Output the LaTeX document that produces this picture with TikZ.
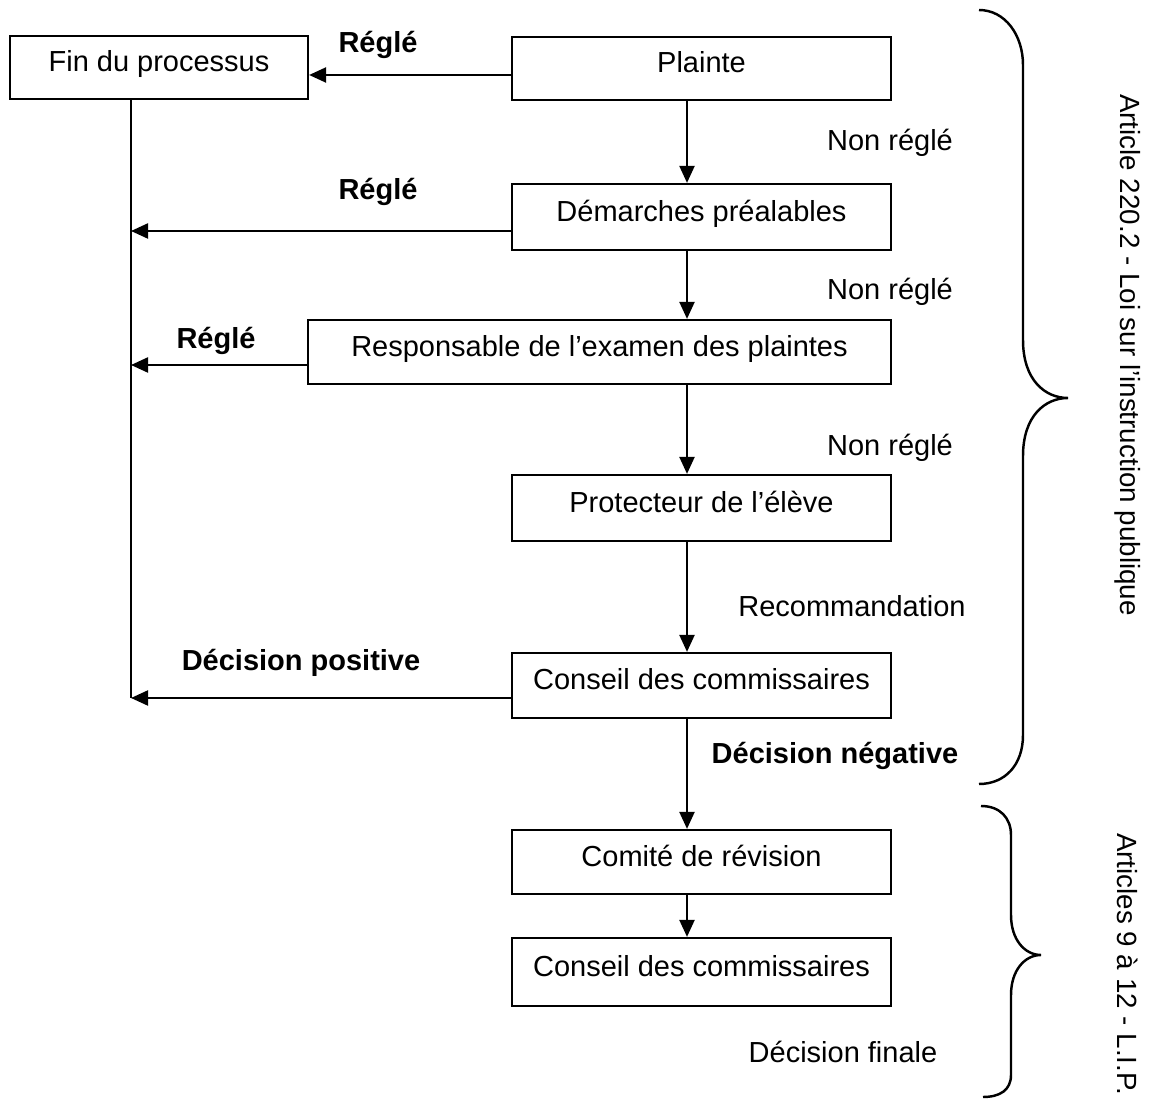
\documentclass[tikz,border=0pt]{standalone}
\usepackage{fontspec}
\setmainfont{Liberation Sans}
\usepackage{tikz}
\usetikzlibrary{positioning,calc,arrows.meta}
\tikzset{
  stepBox/.style={
    rectangle,
    draw=black,
    line width=1.25pt,
    minimum width=7.58cm,
    minimum height=1.3cm,
    inner sep=0pt,
    text height=0.8em,
    text depth=0.3em,
    align=center,
    font=\fontsize{16.5}{19.8}\selectfont
  },
  arrowLine/.style={
    -{Triangle[length=3.4mm,width=3mm]},
    line width=1.25pt
  },
  plainLine/.style={
    line width=1.25pt
  },
  braceLine/.style={
    line width=1.4pt
  },
  labelText/.style={
    inner sep=0pt,
    font=\fontsize{16.5}{19.8}\selectfont
  },
  boldLabel/.style={
    labelText,
    font=\fontsize{16.5}{19.8}\selectfont\bfseries
  },
  sideText/.style={
    inner sep=0pt,
    rotate=-90,
    font=\fontsize{15.8}{19}\selectfont
  }
}

\begin{document}
\begin{tikzpicture}
        \useasboundingbox (0,0) rectangle (23,-21.98);

        % boxes
        \node[stepBox, minimum width=5.96cm, minimum height=1.26cm] (fin) at (3.18,-1.35) {Fin du processus};
        \node[stepBox, minimum height=1.26cm] (plainte) at (14.03,-1.37) {Plainte};
        \node[stepBox, minimum height=1.32cm] (demarches) at (14.03,-4.34) {Démarches préalables};
        \node[stepBox, minimum width=11.66cm, minimum height=1.28cm] (responsable) at (11.99,-7.04) {Responsable de l’examen des plaintes};
        \node[stepBox, minimum height=1.32cm] (protecteur) at (14.03,-10.16) {Protecteur de l’élève};
        \node[stepBox] (conseil) at (14.03,-13.71) {Conseil des commissaires};
        \node[stepBox, minimum height=1.28cm] (comite) at (14.03,-17.24) {Comité de révision};
        \node[stepBox, minimum height=1.36cm] (conseilFinal) at (14.03,-19.44) {Conseil des commissaires};

        \coordinate (colX) at (13.74,0);
        \coordinate (spineTop) at ([xshift=-5.6mm]fin.south);
        \coordinate (conseilExit) at ([yshift=-2.5mm]conseil.west);

        % down the column
        \draw[arrowLine] (plainte.south -| colX) -- (demarches.north -| colX);
        \draw[arrowLine] (demarches.south -| colX) -- (responsable.north -| colX);
        \draw[arrowLine] (responsable.south -| colX) -- (protecteur.north -| colX);
        \draw[arrowLine] (protecteur.south -| colX) -- (conseil.north -| colX);
        \draw[arrowLine] (conseil.south -| colX) -- (comite.north -| colX);
        \draw[arrowLine] (comite.south -| colX) -- (conseilFinal.north -| colX);

        % back to the end
        \draw[arrowLine] ([yshift=-1.3mm]plainte.west) -- ([yshift=-1.3mm]plainte.west -| fin.east);
        \draw[plainLine] (spineTop) -- (conseilExit -| spineTop);
        \draw[arrowLine] ([yshift=-2.8mm]demarches.west) -- ([yshift=-2.8mm]demarches.west -| spineTop);
        \draw[arrowLine] ([yshift=-2.6mm]responsable.west) -- ([yshift=-2.6mm]responsable.west -| spineTop);
        \draw[arrowLine] (conseilExit) -- (conseilExit -| spineTop);

        % labels
        \node[boldLabel] (regle1) at (7.56,-0.90) {Réglé};
        \node[boldLabel] (regle2) at (7.56,-3.84) {Réglé};
        \node[boldLabel] (regle3) at (4.32,-6.82) {Réglé};
        \node[boldLabel] (positive) at (6.02,-13.26) {Décision positive};
        \node[labelText] (nonRegle1) at (17.80,-2.86) {Non réglé};
        \node[labelText] (nonRegle2) at (17.80,-5.84) {Non réglé};
        \node[labelText] (nonRegle3) at (17.80,-8.96) {Non réglé};
        \node[labelText] (recommandation) at (17.04,-12.12) {Recommandation};
        \node[boldLabel] (negative) at (16.70,-15.12) {Décision négative};
        \node[labelText] (finale) at (16.86,-21.04) {Décision finale};

        % braces
        \draw[braceLine] (19.58,-0.20) .. controls (20.10,-0.20) and (20.46,-0.70) .. (20.46,-1.30)
            -- (20.46,-6.80) .. controls (20.46,-7.60) and (20.90,-7.96) .. (21.36,-7.96)
            .. controls (20.90,-7.96) and (20.46,-8.32) .. (20.46,-9.12)
            -- (20.46,-14.70) .. controls (20.46,-15.30) and (20.10,-15.68) .. (19.58,-15.68);
        \draw[braceLine] (19.62,-16.12) .. controls (20.00,-16.12) and (20.22,-16.36) .. (20.22,-16.70)
            -- (20.22,-18.30) .. controls (20.22,-18.80) and (20.50,-19.10) .. (20.82,-19.10)
            .. controls (20.50,-19.10) and (20.22,-19.40) .. (20.22,-19.90)
            -- (20.22,-21.50) .. controls (20.22,-21.80) and (20.00,-21.94) .. (19.66,-21.94);

        \node[sideText] (loiArticle) at (22.56,-7.10) {Article 220.2 - Loi sur l’instruction publique};
        \node[sideText] (lipArticles) at (22.56,-19.28) {Articles 9 à 12 - L.I.P.};
    \end{tikzpicture}
\end{document}
